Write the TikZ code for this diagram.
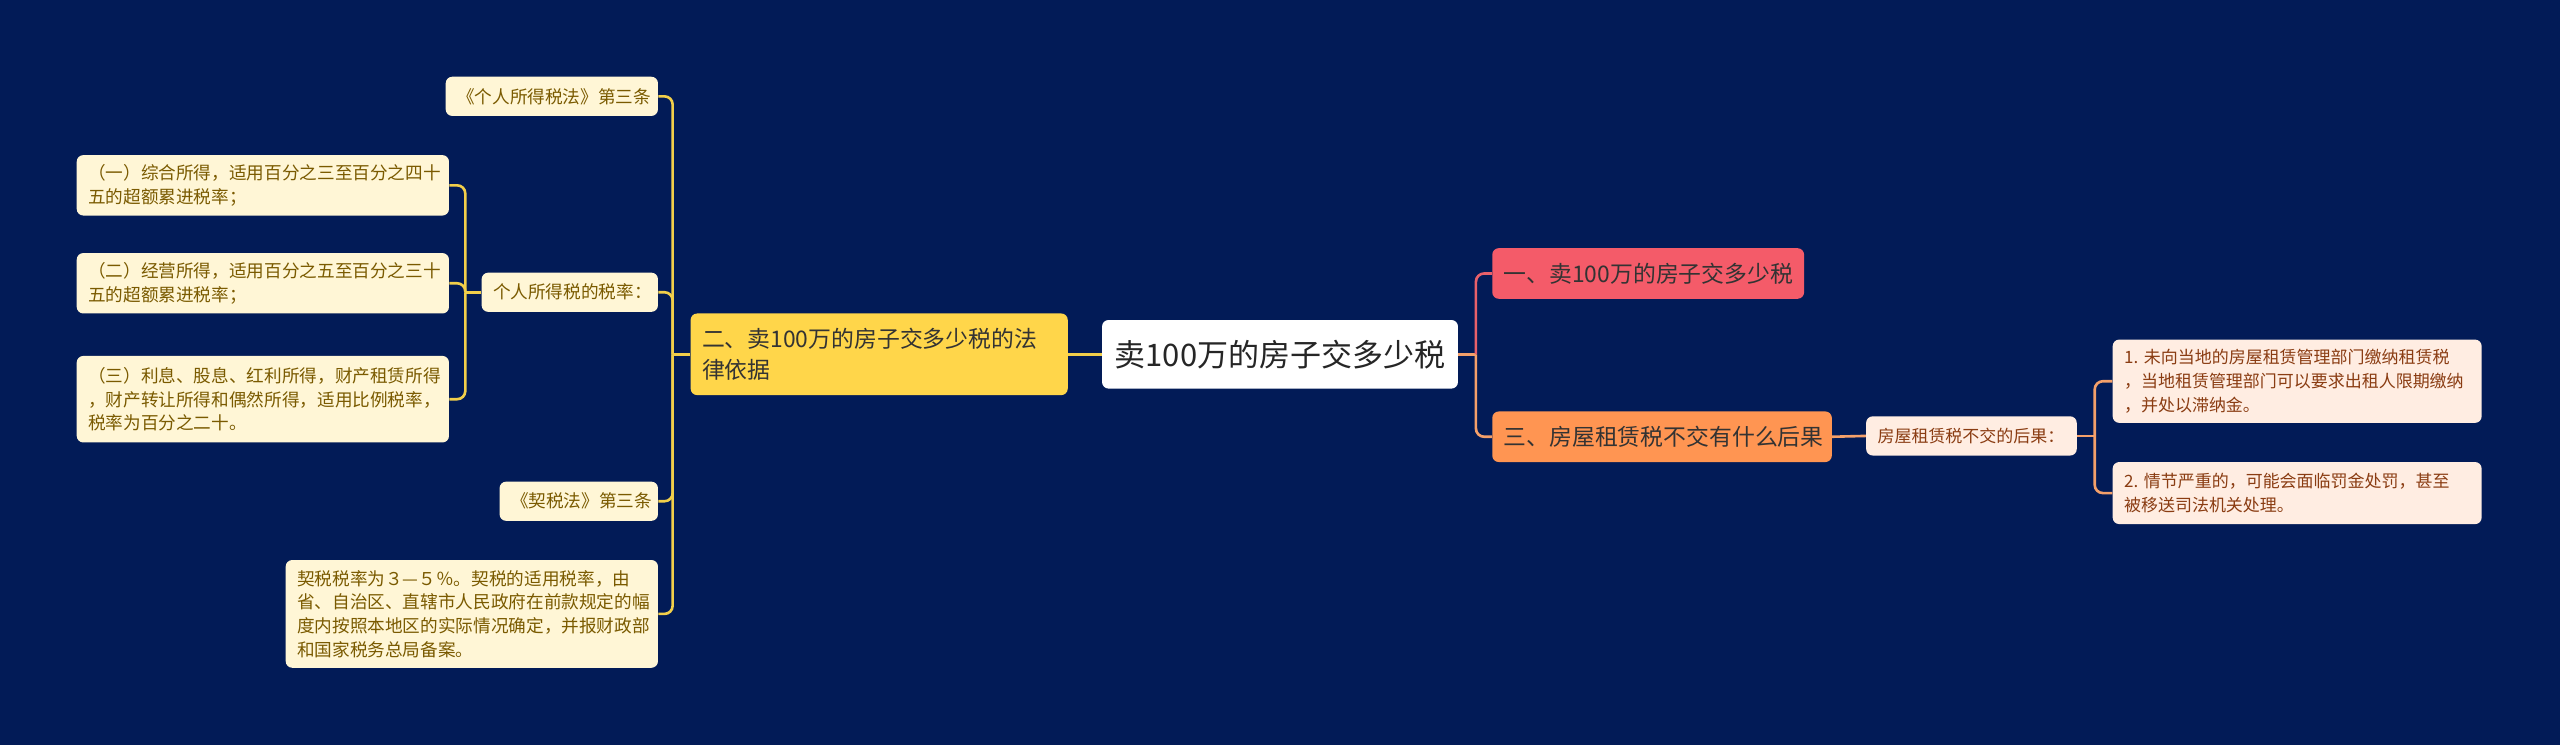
\documentclass[tikz,border=0pt]{standalone}
\usepackage{fontspec}
\setmainfont{Noto Sans CJK SC}
\usetikzlibrary{positioning}

\definecolor{bgnavy}{HTML}{021B57}
\definecolor{lawyellow}{HTML}{FFD64A}
\definecolor{leafyellow}{HTML}{FFF6D6}
\definecolor{leaftext}{HTML}{7A5A00}
\definecolor{linkyellow}{HTML}{F2CF4A}
\definecolor{taxred}{HTML}{F45B69}
\definecolor{rentorange}{HTML}{FF9552}
\definecolor{leafpeach}{HTML}{FFEDE2}
\definecolor{peachtext}{HTML}{8A3C12}
\definecolor{linkred}{HTML}{E8606A}
\definecolor{linkorange}{HTML}{F4A06A}

\begin{document}
\begin{tikzpicture}[x=1pt,y=-1pt,
  box/.style={rounded corners=4pt,inner xsep=7pt,inner ysep=3pt,align=left},
  small/.style={box,fill=leafyellow,text=leaftext,font=\fontsize{10.8}{14.5}\selectfont},
  peach/.style={box,fill=leafpeach,text=peachtext,font=\fontsize{10.4}{14.5}\selectfont},
  ylink/.style={draw=linkyellow,line width=1.6pt,rounded corners=5pt},
  rlink/.style={draw=linkred,line width=1.6pt,rounded corners=5pt},
  olink/.style={draw=linkorange,line width=1.6pt,rounded corners=5pt}]
  \fill[bgnavy] (0,0) rectangle (1568,456);
  \useasboundingbox (0,0) rectangle (1568,456);

  % centre and first level
  \node[box,fill=white,text=black!85,font=\fontsize{19}{22}\selectfont,align=center,
    minimum width=218pt,minimum height=42pt] (root) at (784,217) {卖100万的房子交多少税};
  \node[box,fill=lawyellow,text=black!80,font=\fontsize{14}{19}\selectfont,
    text width=217pt,minimum height=50pt] (law) at (538.5,217)
    {二、卖100万的房子交多少税的法\\律依据};
  \node[box,fill=taxred,text=black!80,font=\fontsize{14}{18}\selectfont,
    text width=177pt,minimum height=31pt] (howmuch) at (1009.5,167.5) {一、卖100万的房子交多少税};
  \node[box,fill=rentorange,text=black!80,font=\fontsize{14}{18}\selectfont,
    text width=194pt,minimum height=31pt] (rent) at (1018,267.5) {三、房屋租赁税不交有什么后果};

  % left branch
  \node[small,text width=116pt,minimum height=24pt] (itaxlaw) at (338,59) {《个人所得税法》第三条};
  \node[small,text width=94pt,minimum height=24pt] (rate) at (349,179) {个人所得税的税率：};
  \node[small,text width=214pt,minimum height=37pt] (rateA) at (161,113.5)
    {（一）综合所得，适用百分之三至百分之四十\\五的超额累进税率；};
  \node[small,text width=214pt,minimum height=37pt] (rateB) at (161,173.5)
    {（二）经营所得，适用百分之五至百分之三十\\五的超额累进税率；};
  \node[small,text width=214pt,minimum height=53pt] (rateC) at (161,244.5)
    {（三）利息、股息、红利所得，财产租赁所得\\，财产转让所得和偶然所得，适用比例税率，\\税率为百分之二十。};
  \node[small,text width=83pt,minimum height=24pt] (deedlaw) at (354.5,307) {《契税法》第三条};
  \node[small,text width=214pt,minimum height=66pt] (deed) at (289,376)
    {契税税率为３—５％。契税的适用税率，由\\省、自治区、直辖市人民政府在前款规定的幅\\度内按照本地区的实际情况确定，并报财政部\\和国家税务总局备案。};

  % right branch
  \node[peach,text width=115pt,minimum height=24pt] (result) at (1207.5,267) {房屋租赁税不交的后果：};
  \node[peach,text width=212pt,minimum height=51pt] (resA) at (1407,233.5)
    {1.~未向当地的房屋租赁管理部门缴纳租赁税\\，当地租赁管理部门可以要求出租人限期缴纳\\，并处以滞纳金。};
  \node[peach,text width=212pt,minimum height=38pt] (resB) at (1407,302)
    {2.~情节严重的，可能会面临罚金处罚，甚至\\被移送司法机关处理。};

  % trunks
  \coordinate (lawtrunk) at (412,217);
  \coordinate (ratetrunk) at (285,179);
  \coordinate (roottrunk) at (904,217);
  \coordinate (restrunk) at (1283,267);

  \draw[ylink] (root.west) -- (law.east);
  \draw[ylink] (law.west) -- (lawtrunk);
  \draw[ylink] (lawtrunk) |- (itaxlaw.east);
  \draw[ylink] (lawtrunk) |- (rate.east);
  \draw[ylink] (lawtrunk) |- (deedlaw.east);
  \draw[ylink] (lawtrunk) |- (deed.east);
  \draw[ylink] (rate.west) -- (ratetrunk);
  \draw[ylink] (ratetrunk) |- (rateA.east);
  \draw[ylink] (ratetrunk) |- (rateB.east);
  \draw[ylink] (ratetrunk) |- (rateC.east);

  \draw[olink] (root.east) -- (roottrunk);
  \draw[rlink] (roottrunk) |- (howmuch.west);
  \draw[olink] (roottrunk) |- (rent.west);
  \draw[olink] (rent.east) -- (result.west);
  \draw[olink] (result.east) -- (restrunk);
  \draw[olink] (restrunk) |- (resA.west);
  \draw[olink] (restrunk) |- (resB.west);
\end{tikzpicture}
\end{document}
